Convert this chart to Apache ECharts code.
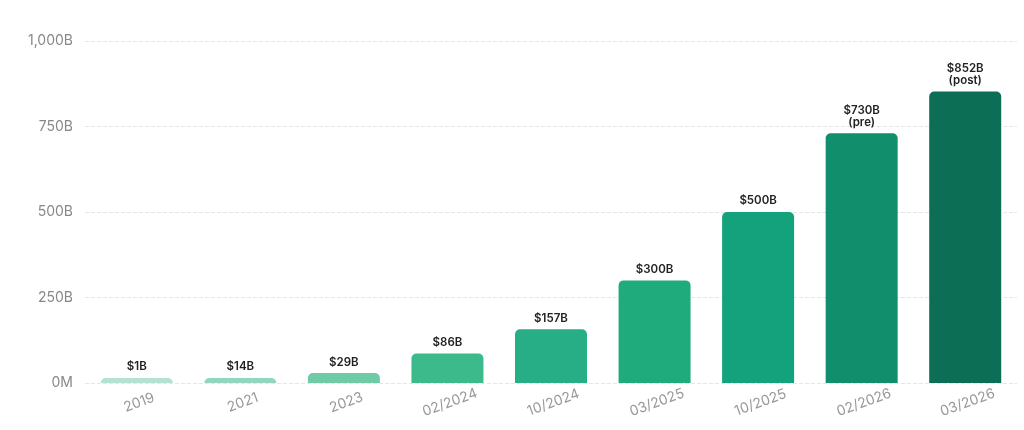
<!DOCTYPE html>
<html>
<head>
<meta charset="utf-8">
<script src="https://cdn.jsdelivr.net/npm/echarts@6/dist/echarts.min.js"></script>
<style>html,body{margin:0;padding:0;background:#fff}#bar{width:1024px;height:430px}</style>
</head>
<body>
<div id="bar"></div>
<script>
var categories = ['2019','2021','2023','02/2024','10/2024','03/2025','10/2025','02/2026','03/2026']
var values = [1,14,29,86,157,300,500,730,852]
var labels = ['$1B','$14B','$29B','$86B','$157B','$300B','$500B','$730B\n(pre)','$852B\n(post)']
var colors = ['#b3e2d0','#93d6bd','#6fcaa6','#3dba8c','#27ae87','#20ab7c','#14a27d','#118f6c','#0c6e55']
var yTicks = {0:'0M',250:'250B',500:'500B',750:'750B',1000:'1,000B'}

var data = []
for(var i=0;i<values.length;i++){
	data.push({value:values[i], itemStyle:{color:colors[i]}, label:{formatter:labels[i]}})
}
var option = {
	grid:{left:85,right:7,top:41,bottom:47},
	xAxis:{
		type:'category',
		data:categories,
		axisLine:{show:false},
		axisTick:{show:false},
		axisLabel:{rotate:20,align:'center',verticalAlign:'top',color:'#999',fontSize:14,fontFamily:'Inter',margin:13}
	},
	yAxis:{
		type:'value',min:0,max:1000,interval:250,
		axisLabel:{color:'#888',fontSize:14,fontFamily:'Inter',margin:12,formatter:function(v){return yTicks[v]}},
		splitLine:{lineStyle:{color:'#e6e6e6',type:'dashed'}}
	},
	series:[{
		type:'bar',
		data:data,
		barWidth:72,
		barMinHeight:5,
		itemStyle:{borderRadius:[5,5,0,0]},
		label:{show:true,position:'top',color:'#222',fontSize:11.5,fontFamily:'Inter',fontWeight:600,lineHeight:12,distance:5}
	}]
}
echarts.init(document.getElementById('bar')).setOption(option)
</script>
</body>
</html>
